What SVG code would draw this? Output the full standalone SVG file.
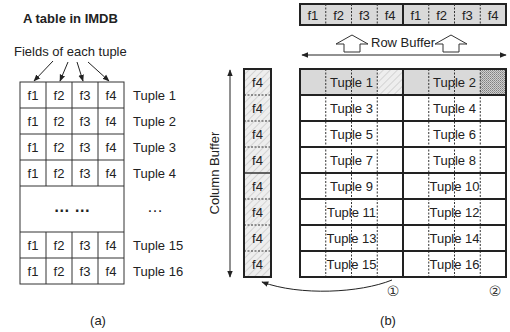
<svg xmlns="http://www.w3.org/2000/svg" width="510" height="332" viewBox="0 0 510 332">
<style>
.t{font-family:"Liberation Sans",Arial,sans-serif;font-size:13px;fill:#222}
.c{text-anchor:middle}
.b{font-weight:bold}
.thin{fill:none;stroke:#333;stroke-width:1}
.thick{fill:none;stroke:#222;stroke-width:2}
.dash{fill:none;stroke:#333;stroke-width:1;stroke-dasharray:2,1.5}
.arr{fill:none;stroke:#222;stroke-width:1}
.blk{fill:#fff;stroke:#333;stroke-width:1}
</style>
<defs>
<marker id="ah" viewBox="0 0 10 10" refX="9" refY="5" markerWidth="7" markerHeight="7" orient="auto-start-reverse" markerUnits="userSpaceOnUse">
<path d="M0,1 L10,5 L0,9 Z" fill="#222"/>
</marker>
<pattern id="hatch" width="5" height="5" patternUnits="userSpaceOnUse" patternTransform="rotate(45)">
<rect width="5" height="5" fill="#eeeeee"/>
<line x1="0" y1="0" x2="0" y2="5" stroke="#b8b8b8" stroke-width="1"/>
</pattern>
<pattern id="dots" width="2" height="2" patternUnits="userSpaceOnUse">
<rect width="2" height="2" fill="#cfcfcf"/>
<rect width="1" height="1" fill="#808080"/>
<rect x="1" y="1" width="1" height="1" fill="#9a9a9a"/>
</pattern>
</defs>

<!-- (a) -->
<g id="title-a">
<text class="t b" x="23" y="23">A table in IMDB</text>
</g>
<g id="fields-label">
<text class="t" x="14" y="56">Fields of each tuple</text>
</g>
<g id="table-a">
<rect class="thin" x="20" y="82" width="104" height="202"/>
<path class="thin" d="M20 108H124M20 134H124M20 160H124M20 186H124M20 232H124M20 258H124"/>
<path class="thin" d="M46 82V186M72 82V186M98 82V186M46 232V284M72 232V284M98 232V284"/>
<g class="t c">
<text x="33" y="100">f1</text><text x="59" y="100">f2</text><text x="85" y="100">f3</text><text x="111" y="100">f4</text>
<text x="33" y="126">f1</text><text x="59" y="126">f2</text><text x="85" y="126">f3</text><text x="111" y="126">f4</text>
<text x="33" y="152">f1</text><text x="59" y="152">f2</text><text x="85" y="152">f3</text><text x="111" y="152">f4</text>
<text x="33" y="178">f1</text><text x="59" y="178">f2</text><text x="85" y="178">f3</text><text x="111" y="178">f4</text>
<text x="33" y="250">f1</text><text x="59" y="250">f2</text><text x="85" y="250">f3</text><text x="111" y="250">f4</text>
<text x="33" y="276">f1</text><text x="59" y="276">f2</text><text x="85" y="276">f3</text><text x="111" y="276">f4</text>
</g>
<text class="t c b" x="72" y="212" style="font-size:16px">… …</text>
</g>
<g id="tuple-labels-a" class="t">
<text x="133" y="100">Tuple 1</text>
<text x="133" y="126">Tuple 2</text>
<text x="133" y="152">Tuple 3</text>
<text x="133" y="178">Tuple 4</text>
<text x="147" y="212" style="font-size:16px">…</text>
<text x="133" y="250">Tuple 15</text>
<text x="133" y="276">Tuple 16</text>
</g>
<g id="caption-a"><text class="t c" x="98" y="325">(a)</text></g>

<!-- (b) -->
<g id="row-buffer">
<rect x="300" y="4" width="206" height="21" fill="#d9d9d9" stroke="#222" stroke-width="2"/>
<path class="dash" d="M325.75 4V25M351.5 4V25M377.25 4V25M428.75 4V25M454.5 4V25M480.25 4V25"/>
<path class="thick" d="M403 4V25"/>
<g class="t c">
<text x="312.9" y="20">f1</text><text x="338.6" y="20">f2</text><text x="364.4" y="20">f3</text><text x="390.1" y="20">f4</text>
<text x="415.9" y="20">f1</text><text x="441.6" y="20">f2</text><text x="467.4" y="20">f3</text><text x="493.1" y="20">f4</text>
</g>
<text class="t" x="371" y="47">Row Buffer</text>
<path class="blk" d="M352 35L368 44H360V52H344V44H336Z"/>
<path class="blk" d="M451 35L467 44H459V52H443V44H435Z"/>
</g>

<g id="main-grid">
<rect x="300" y="69" width="206" height="26" fill="#d9d9d9"/>
<rect x="377.25" y="69" width="25.75" height="26" fill="url(#hatch)"/>
<rect x="480.25" y="69" width="25.75" height="26" fill="url(#dots)"/>
<path class="dash" d="M325.75 69V277M351.5 69V277M377.25 69V277M428.75 69V277M454.5 69V277M480.25 69V277"/>
<path class="thick" d="M300 95H506M300 121H506M300 147H506M300 173H506M300 199H506M300 225H506M300 251H506M403 69V277"/>
<rect class="thick" x="300" y="69" width="206" height="208"/>
<g class="t c">
<text x="351.5" y="87">Tuple 1</text><text x="454.5" y="87">Tuple 2</text>
<text x="351.5" y="113">Tuple 3</text><text x="454.5" y="113">Tuple 4</text>
<text x="351.5" y="139">Tuple 5</text><text x="454.5" y="139">Tuple 6</text>
<text x="351.5" y="165">Tuple 7</text><text x="454.5" y="165">Tuple 8</text>
<text x="351.5" y="191">Tuple 9</text><text x="454.5" y="191">Tuple 10</text>
<text x="351.5" y="217">Tuple 11</text><text x="454.5" y="217">Tuple 12</text>
<text x="351.5" y="243">Tuple 13</text><text x="454.5" y="243">Tuple 14</text>
<text x="351.5" y="269">Tuple 15</text><text x="454.5" y="269">Tuple 16</text>
</g>
</g>

<g id="column-buffer">
<rect x="244" y="69" width="27" height="208" fill="url(#hatch)"/>
<path class="dash" d="M244 95H271M244 121H271M244 147H271M244 199H271M244 225H271M244 251H271"/>
<path class="thin" d="M244 173H271" style="stroke-width:1.5"/>
<rect x="244" y="69" width="27" height="208" fill="none" stroke="#222" stroke-width="2"/>
<g class="t c">
<text x="257.5" y="87">f4</text><text x="257.5" y="113">f4</text><text x="257.5" y="139">f4</text><text x="257.5" y="165">f4</text>
<text x="257.5" y="191">f4</text><text x="257.5" y="217">f4</text><text x="257.5" y="243">f4</text><text x="257.5" y="269">f4</text>
</g>
<text class="t c" transform="translate(219 173) rotate(-90)">Column Buffer</text>
</g>

<g id="markers-b" style="font-family:'DejaVu Sans','Noto Sans CJK JP',sans-serif;font-size:14px;fill:#333;text-anchor:middle">
<text x="393" y="296">①</text>
<text x="495" y="296">②</text>
</g>
<g id="caption-b"><text class="t c" x="388" y="325">(b)</text></g>

<g id="connectors">
<line class="arr" x1="53" y1="61" x2="34" y2="81" marker-end="url(#ah)"/>
<line class="arr" x1="68" y1="62" x2="60" y2="81" marker-end="url(#ah)"/>
<line class="arr" x1="77" y1="62" x2="83" y2="81" marker-end="url(#ah)"/>
<line class="arr" x1="88" y1="62" x2="109" y2="81" marker-end="url(#ah)"/>
<line class="arr" x1="302" y1="55" x2="506" y2="55" marker-start="url(#ah)" marker-end="url(#ah)"/>
<line class="arr" x1="230" y1="70" x2="230" y2="277" marker-start="url(#ah)" marker-end="url(#ah)"/>
<path class="arr" d="M392 280C360 293 300 296 262 282" marker-end="url(#ah)"/>
</g>
</svg>
